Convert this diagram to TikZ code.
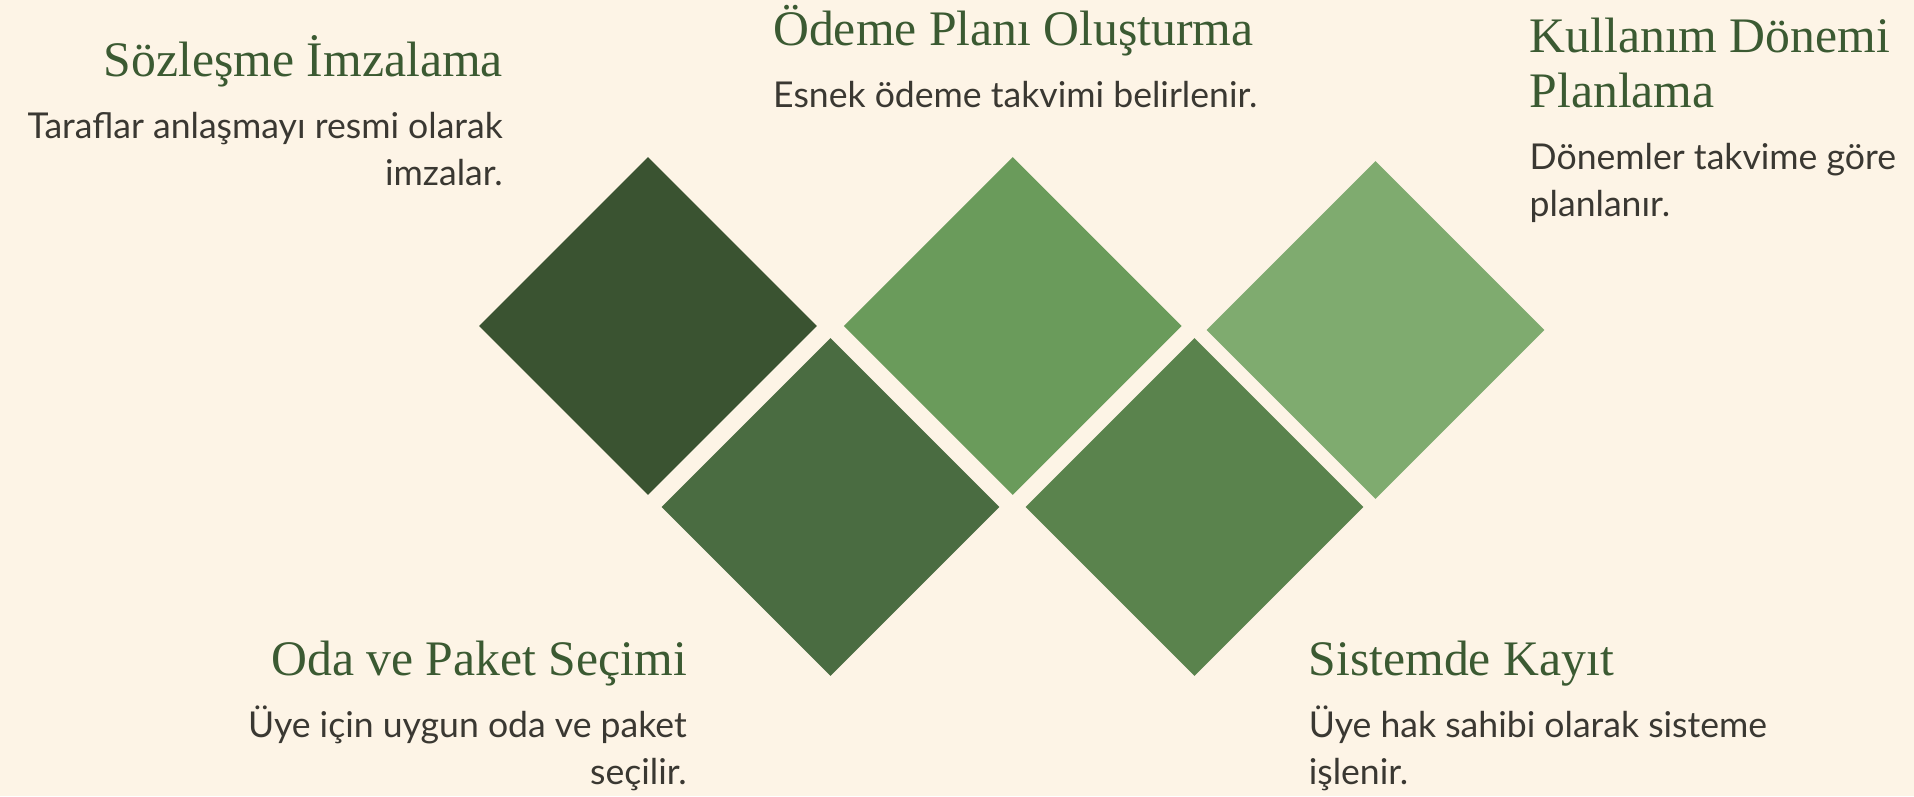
\documentclass[tikz,border=0pt]{standalone}
\usepackage{fontspec}
\setmainfont{Liberation Serif}
\newfontfamily\bodyfont{Lato}
\usetikzlibrary{shapes.geometric}
\definecolor{bg}{HTML}{FDF4E6}
\definecolor{titlecol}{HTML}{3B5A32}
\definecolor{bodycol}{HTML}{3A3832}
\definecolor{cA}{HTML}{3A5331}
\definecolor{cB}{HTML}{4A6C41}
\definecolor{cC}{HTML}{6A9B5B}
\definecolor{cD}{HTML}{5A834D}
\definecolor{cE}{HTML}{7FAB6F}
\begin{document}
\begin{tikzpicture}[x=1pt,y=-1pt,
  tile/.style={diamond, minimum width=338pt, minimum height=338pt, inner sep=0pt, draw=none},
  ttl/.style={font=\fontsize{49.7}{54.6}\selectfont, text=titlecol, inner sep=0pt},
  bdy/.style={font=\bodyfont\fontsize{35.6}{47}\selectfont, text=bodycol, inner sep=0pt}]
\fill[bg] (0,0) rectangle (1914,796);
\useasboundingbox (0,0) rectangle (1914,796);
\node[tile, fill=cA] (d1) at (648,326) {};
\node[tile, fill=cB] (d2) at (830.5,507) {};
\node[tile, fill=cC] (d3) at (1012.8,326) {};
\node[tile, fill=cD] (d4) at (1194.5,507) {};
\node[tile, fill=cE] (d5) at (1375.5,330) {};
% multi-line nodes: anchor base = baseline of last line
\node[ttl, anchor=base east] (t1) at (503,76) {Sözleşme İmzalama};
\node[bdy, anchor=base east, align=right] (b1) at (503,185) {Taraflar anlaşmayı resmi olarak\\imzalar.};
\node[ttl, anchor=base west] (t2) at (773,45) {Ödeme Planı Oluşturma};
\node[bdy, anchor=base west, align=left] (b2) at (773,107) {Esnek ödeme takvimi belirlenir.};
\node[ttl, anchor=base west, align=left] (t3) at (1529.5,107) {Kullanım Dönemi\\Planlama};
\node[bdy, anchor=base west, align=left] (b3) at (1529.5,216) {Dönemler takvime göre\\planlanır.};
\node[ttl, anchor=base east] (t4) at (687,675) {Oda ve Paket Seçimi};
\node[bdy, anchor=base east, align=right] (b4) at (687,784) {Üye için uygun oda ve paket\\seçilir.};
\node[ttl, anchor=base west] (t5) at (1308.6,675) {Sistemde Kayıt};
\node[bdy, anchor=base west, align=left] (b5) at (1308.6,784) {Üye hak sahibi olarak sisteme\\işlenir.};
\end{tikzpicture}
\end{document}
